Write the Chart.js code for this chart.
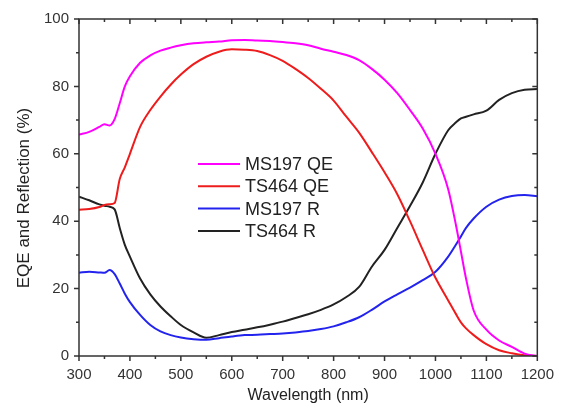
<!DOCTYPE html>
<html lang="en">
<head>
<meta charset="UTF-8">
<title>EQE and Reflection</title>
<script src="https://cdn.jsdelivr.net/npm/chart.js"></script>
<style>
  html, body { margin: 0; padding: 0; background: #fff; }
  #wrap { width: 564px; height: 415px; }
</style>
</head>
<body>
<div id="wrap"><canvas id="myChart"></canvas></div>
<script>
// wavelength grid (nm) shared by all four curves
const wavelengths = [300, 320, 340, 350, 360, 370, 380, 390, 400, 420, 440, 460, 480, 500,
  525, 550, 575, 600, 625, 650, 675, 700, 725, 750, 775, 800, 825, 850, 875, 900,
  925, 950, 975, 1000, 1025, 1040, 1050, 1060, 1075, 1100, 1125, 1150, 1175, 1200];

const ms197QE = [65.7, 66.5, 68.0, 68.8, 68.4, 70.3, 75, 80, 83, 87, 89.2, 90.6, 91.5, 92.2,
  92.8, 93.1, 93.3, 93.7, 93.8, 93.6, 93.5, 93.2, 92.8, 92.2, 91.2, 90.3, 89.3, 87.8, 85.2, 82,
  78, 73, 67.5, 60, 49.5, 39, 31, 23, 13.5, 7.8, 4.6, 2.7, 0.7, 0];

const ts464QE = [43.4, 43.6, 44.2, 44.8, 45.0, 45.4, 52.5, 56, 60, 68, 73, 77, 80.5, 83.5,
  86.6, 88.8, 90.3, 91, 90.9, 90.5, 89.3, 87.6, 85.2, 82.5, 79.3, 75.8, 71, 66.3, 60.5, 54.5,
  48, 40, 31.5, 23.2, 16.5, 12.5, 10, 8.2, 6.2, 3.5, 1.7, 0.8, 0.2, 0];

const ms197R = [24.7, 25, 24.8, 24.7, 25.5, 24.3, 21.5, 18.5, 16, 12.2, 9.2, 7.3, 6.2, 5.5,
  5, 4.8, 5.3, 5.8, 6.2, 6.3, 6.5, 6.7, 7, 7.4, 8, 8.8, 10, 11.5, 13.7, 16.2,
  18.3, 20.3, 22.5, 25, 29.5, 33, 35.5, 38, 40.8, 44.3, 46.4, 47.5, 47.8, 47.4];

const ts464R = [47.3, 46.2, 45, 44.6, 44.3, 43.5, 38, 33, 29.5, 23, 18.3, 14.7, 11.8, 9.2,
  7, 5.4, 6.2, 7.1, 7.8, 8.5, 9.3, 10.2, 11.3, 12.4, 13.7, 15.3, 17.5, 20.5, 26.5, 31.5,
  38, 44.5, 51.5, 60, 67, 69.3, 70.5, 71.0, 71.7, 72.8, 76, 78, 79, 79.2];

const seriesNames = ['MS197 QE', 'TS464 QE', 'MS197 R', 'TS464 R'];
const seriesColors = ['#ff00ff', '#ee1c1c', '#2323ee', '#222222'];

const FONT = "'Liberation Sans', Arial, sans-serif";

function toPoints(ys) {
  return wavelengths.map((w, i) => ({ x: w, y: ys[i] }));
}

// box round the plot with the small tick marks (out on left/bottom, in on top/right)
const frameTicks = {
  id: 'frameTicks',
  afterDatasetsDraw(chart) {
    const { ctx, chartArea: a, scales: { x, y } } = chart;
    ctx.save();
    ctx.strokeStyle = '#333';
    ctx.lineWidth = 1.5;
    ctx.strokeRect(a.left, a.top, a.right - a.left, a.bottom - a.top);
    ctx.beginPath();
    for (let v = 300; v <= 1200; v += 50) {
      const px = x.getPixelForValue(v);
      const len = v % 100 === 0 ? 5 : 3;
      ctx.moveTo(px, a.bottom); ctx.lineTo(px, a.bottom + len);
      ctx.moveTo(px, a.top); ctx.lineTo(px, a.top + len);
    }
    for (let v = 0; v <= 100; v += 10) {
      const py = y.getPixelForValue(v);
      const len = v % 20 === 0 ? 5 : 3;
      ctx.moveTo(a.left, py); ctx.lineTo(a.left - len, py);
      ctx.moveTo(a.right, py); ctx.lineTo(a.right - len, py);
    }
    ctx.stroke();

    // y axis title, sits a bit below the middle of the axis in the original
    ctx.translate(24, 198);
    ctx.rotate(-Math.PI / 2);
    ctx.fillStyle = '#222';
    ctx.font = '17px ' + FONT;
    ctx.textAlign = 'center';
    ctx.textBaseline = 'middle';
    ctx.fillText('EQE and Reflection (%)', 0, 0);
    ctx.restore();
  }
};

// legend inside the plot
const innerLegend = {
  id: 'innerLegend',
  afterDraw(chart) {
    const ctx = chart.ctx;
    ctx.save();
    ctx.font = '18px ' + FONT;
    ctx.textBaseline = 'middle';
    ctx.fillStyle = '#222';
    chart.data.datasets.forEach((ds, i) => {
      const yy = 164 + i * 22.3;
      ctx.strokeStyle = ds.borderColor;
      ctx.lineWidth = 2;
      ctx.beginPath();
      ctx.moveTo(198, yy);
      ctx.lineTo(240, yy);
      ctx.stroke();
      ctx.fillText(ds.label, 245, yy + 1);
    });
    ctx.restore();
  }
};

const ctx = document.getElementById('myChart').getContext('2d');
new Chart(ctx, {
  type: 'line',
  data: {
    datasets: [ms197QE, ts464QE, ms197R, ts464R].map((ys, i) => ({
      label: seriesNames[i],
      data: toPoints(ys),
      borderColor: seriesColors[i],
      borderWidth: 2,
      pointRadius: 0,
      fill: false,
      cubicInterpolationMode: 'monotone'
    }))
  },
  options: {
    responsive: true,
    maintainAspectRatio: false,
    animation: false,
    events: [],
    layout: { padding: { top: 15, right: 25, left: 0, bottom: 0 } },
    plugins: {
      legend: { display: false },
      tooltip: { enabled: false }
    },
    scales: {
      x: {
        type: 'linear',
        min: 300,
        max: 1200,
        grid: { display: false, drawTicks: false },
        border: { display: false },
        ticks: {
          stepSize: 100,
          autoSkip: false,
          maxRotation: 0,
          padding: 10,
          color: '#333',
          font: { family: FONT, size: 15 },
          callback: v => String(v)
        },
        title: {
          display: true,
          text: 'Wavelength (nm)',
          color: '#222',
          font: { family: FONT, size: 16 },
          padding: { top: 0, bottom: 10 }
        },
        afterFit(scale) { scale.height = 59; }
      },
      y: {
        min: 0,
        max: 100,
        grid: { display: false, drawTicks: false },
        border: { display: false },
        ticks: {
          stepSize: 20,
          padding: 10,
          color: '#333',
          font: { family: FONT, size: 15 }
        },
        afterFit(scale) { scale.width = 79; }
      }
    }
  },
  plugins: [frameTicks, innerLegend]
});
</script>
</body>
</html>
